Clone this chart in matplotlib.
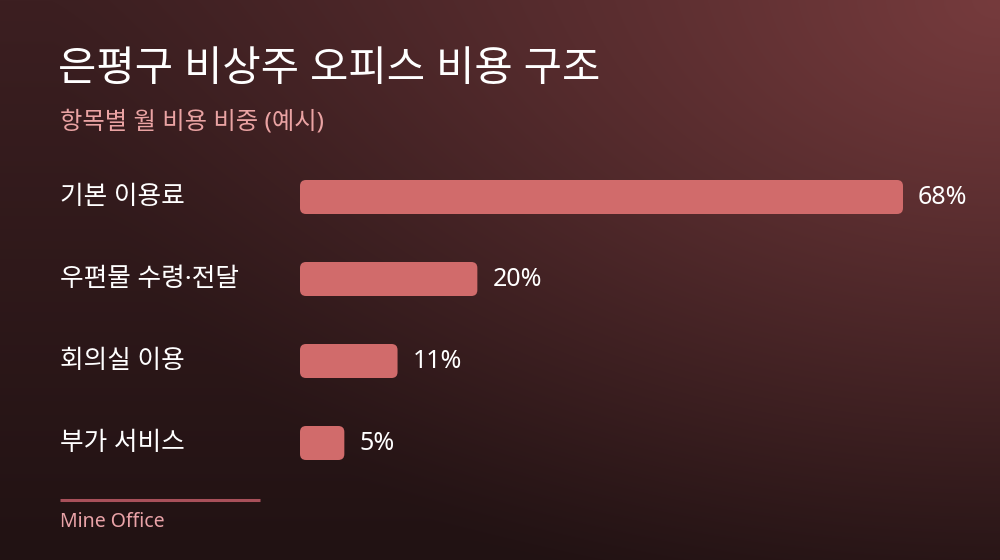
import numpy as np
import matplotlib
matplotlib.use("Agg")
import matplotlib.pyplot as plt
from matplotlib.patches import FancyBboxPatch

# Latin glyphs from Noto Sans, hangul falls back to the CJK family
plt.rcParams['font.family'] = ['Noto Sans', 'Noto Sans CJK KR', 'DejaVu Sans']

title = "은평구 비상주 오피스 비용 구조"
subtitle = "항목별 월 비용 비중 (예시)"
categories = ["기본 이용료", "우편물 수령·전달", "회의실 이용", "부가 서비스"]
values = [68, 20, 11, 5]
source = "Mine Office"

W, H = 1000, 560
fig = plt.figure(figsize=(W / 100, H / 100), dpi=100)

# background: dark base with warm glow in the top-right corner
bg = fig.add_axes([0, 0, 1, 1])
yy, xx = np.mgrid[0:H, 0:W]
base_top = np.array([0x3c, 0x1f, 0x21]) / 255
base_bot = np.array([0x21, 0x12, 0x13]) / 255
glow = np.array([0x76, 0x3b, 0x3d]) / 255
t = (yy / H)[..., None]
img = base_top * (1 - t) + base_bot * t
d = np.sqrt(((xx - W) / 950.0) ** 2 + (yy / 650.0) ** 2)
g = np.clip(1 - d, 0, 1)[..., None] ** 1.2
img = img * (1 - g) + glow * g
bg.imshow(img, extent=[0, W, H, 0], aspect='auto')
bg.set_xlim(0, W)
bg.set_ylim(H, 0)
bg.axis('off')

bg.text(58, 70, title, color='white', fontsize=30, fontweight='medium', va='center', ha='left')
bg.text(60, 122, subtitle, color='#eaa3a3', fontsize=17.5, va='center', ha='left')
bg.plot([60, 260], [500, 500], color='#a8505a', lw=2.2, solid_capstyle='butt')
bg.text(60, 522, source, color='#eaa3a8', fontsize=14, va='center', ha='left')

# bar area: x from 300px, 68% -> 903px
px_per_pct = 603 / 68
ax = fig.add_axes([300 / W, (H - 484) / H, 700 / W, 328 / H])
ax.set_xlim(0, 700 / px_per_pct)
ax.set_ylim(len(categories) - 0.5, -0.5)
ax.axis('off')

bar_h = 34 / 82
aspect = (1 / 82) / (1 / px_per_pct)
r = 6 / px_per_pct
for i, (cat, v) in enumerate(zip(categories, values)):
    p = FancyBboxPatch((0, i - bar_h / 2), v, bar_h,
                       boxstyle=f"round,pad=0,rounding_size={r}",
                       mutation_aspect=aspect,
                       facecolor='#d16b6b', edgecolor='none')
    ax.add_patch(p)
    ax.text(v + 15 / px_per_pct, i, f"{v}%", color='white', fontsize=18,
            va='center', ha='left')
    ax.annotate(cat, xy=(0, i), xycoords='data', xytext=(60, 0),
                textcoords=('figure pixels', 'offset points'),
                color='white', fontsize=18.5, va='center', ha='left')

fig.savefig("out.png", dpi=100)
